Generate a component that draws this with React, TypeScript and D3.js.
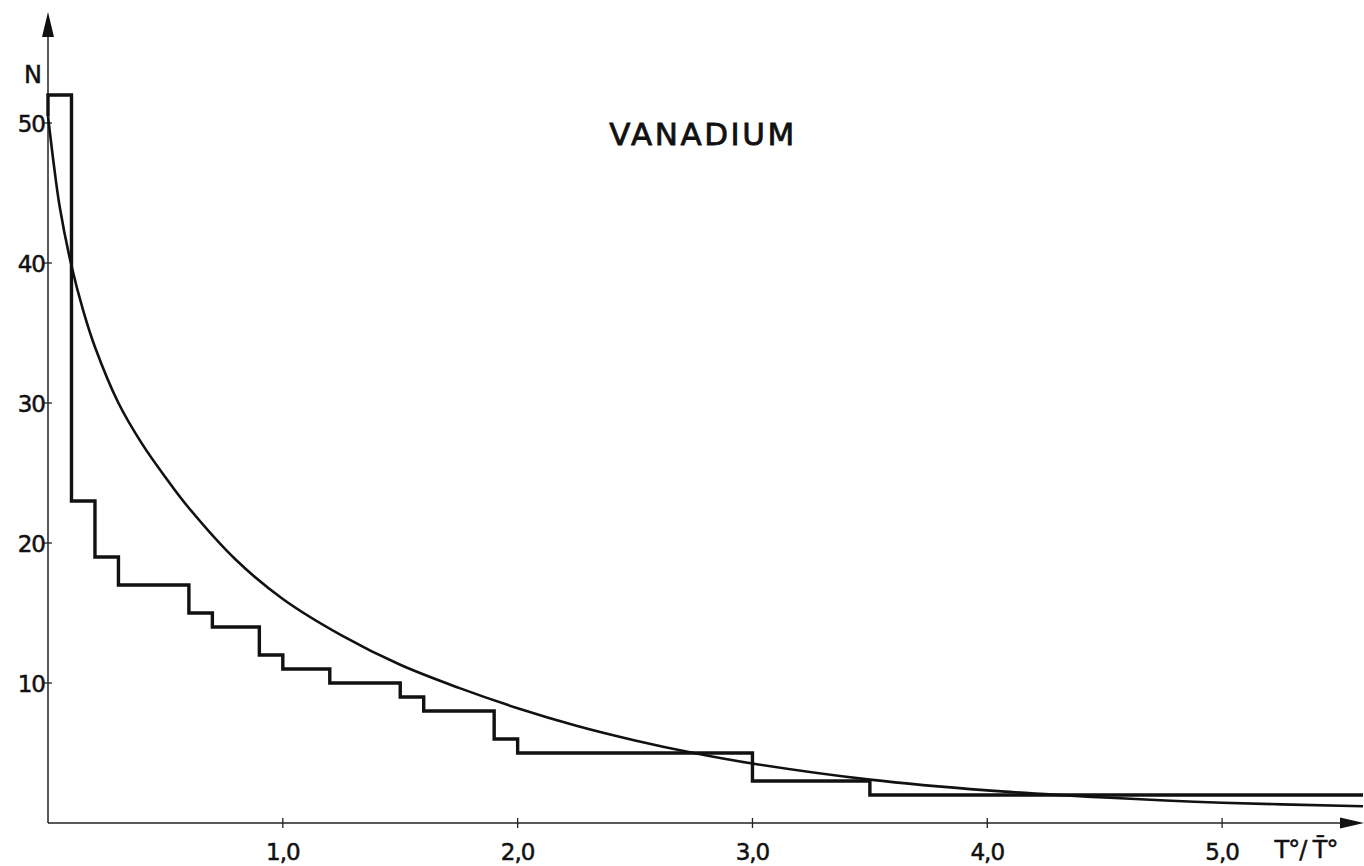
import React from "react";
import * as d3 from "d3";

// Histogram (step) data: bin edges along T°/T̄° and counts N
const binEdges = [0, 0.1, 0.2, 0.3, 0.6, 0.7, 0.9, 1.0, 1.2, 1.5, 1.6, 1.9, 2.0, 3.0, 3.5, 5.6];
const binCounts = [52, 23, 19, 17, 15, 14, 12, 11, 10, 9, 8, 6, 5, 3, 2];

// Smooth fitted curve samples
const curveT = [0, 0.025, 0.05, 0.1, 0.15, 0.2, 0.3, 0.4, 0.5, 0.6, 0.8, 1.0, 1.25, 1.5, 1.75, 2.0, 2.25, 2.5, 2.75, 3.0, 3.5, 4.0, 4.5, 5.0, 5.6];
const curveN = [50.5, 47.0, 44.0, 39.8, 36.6, 34.0, 30.0, 27.1, 24.7, 22.5, 18.8, 16.0, 13.4, 11.3, 9.65, 8.2, 6.95, 5.9, 5.0, 4.25, 3.1, 2.33, 1.82, 1.45, 1.2];

const xTicks = [1, 2, 3, 4, 5];
const xTickLabels = ["1,0", "2,0", "3,0", "4,0", "5,0"];
const yTicks = [10, 20, 30, 40, 50];
const yTickLabels = ["10", "20", "30", "40", "50"];

const title = "VANADIUM";
const yLabel = "N";
const xLabel = "T°/ T\u0304°";

export default function App() {
  const W = 1364;
  const H = 866;
  const x = d3.scaleLinear().domain([0, 5.6]).range([48, 1363]);
  const y = d3.scaleLinear().domain([0, 58]).range([823, 11]);

  const stepPts: [number, number][] = [[0, curveN[0]]];
  binCounts.forEach((c, i) => {
    stepPts.push([binEdges[i], c]);
    stepPts.push([binEdges[i + 1], c]);
  });
  const stepLine = d3
    .line<[number, number]>()
    .x((d) => x(d[0]))
    .y((d) => y(d[1]));

  const curveLine = d3
    .line<number>()
    .x((_, i) => x(curveT[i]))
    .y((d) => y(d))
    .curve(d3.curveCatmullRom.alpha(0.5));

  const axisColor = "#222";
  const font = "'DejaVu Sans', sans-serif";
  const x0 = x(0);
  const y0 = y(0);
  const textStroke = { stroke: "#111", strokeWidth: 0.5 };

  return (
    <svg
      width={W}
      height={H}
      style={{ position: "absolute", left: 0, top: 0, background: "#fff" }}
      viewBox={`0 0 ${W} ${H}`}
    >
      {/* axes */}
      <line x1={x0} y1={y0} x2={x0} y2={30} stroke={axisColor} strokeWidth={1.5} />
      <path d={`M${x0 - 6},37 L${x0},12 L${x0 + 6},37 Z`} fill="#111" />
      <line x1={x0} y1={y0} x2={1345} y2={y0} stroke={axisColor} strokeWidth={1.5} />
      <path d={`M1340,${y0 - 5.5} L1364,${y0} L1340,${y0 + 5.5} Z`} fill="#111" />

      {/* y ticks */}
      {yTicks.map((t, i) => (
        <g key={"y" + t}>
          <line x1={x0 - 4} x2={x0 + 4} y1={y(t)} y2={y(t)} stroke={axisColor} strokeWidth={1.3} />
          <text
            x={x0 - 3}
            y={y(t) + 8.5}
            textAnchor="end"
            fontFamily={font}
            fontSize={23}
            fill="#111"
            letterSpacing={-1}
            {...textStroke}
          >
            {yTickLabels[i]}
          </text>
        </g>
      ))}

      {/* x ticks */}
      {xTicks.map((t, i) => (
        <g key={"x" + t}>
          <line x1={x(t)} x2={x(t)} y1={y0 - 5} y2={y0 + 5} stroke={axisColor} strokeWidth={1.3} />
          <text
            x={x(t)}
            y={860}
            textAnchor="middle"
            fontFamily={font}
            fontSize={23}
            fill="#111"
            letterSpacing={-1}
            {...textStroke}
          >
            {xTickLabels[i]}
          </text>
        </g>
      ))}

      {/* axis labels */}
      <text x={33} y={83} textAnchor="middle" fontFamily={font} fontSize={24} fill="#111" {...textStroke}>
        {yLabel}
      </text>
      <text x={1306} y={858} textAnchor="middle" fontFamily={font} fontSize={24} fill="#111" letterSpacing={-1} {...textStroke}>
        {xLabel}
      </text>

      {/* title */}
      <text x={703} y={145} textAnchor="middle" fontFamily={font} fontSize={31} fill="#111" letterSpacing={2.5} stroke="#111" strokeWidth={0.8}>
        {title}
      </text>

      {/* histogram steps */}
      <path d={stepLine(stepPts) || ""} fill="none" stroke="#111" strokeWidth={3.4} strokeLinejoin="miter" />

      {/* fitted curve */}
      <path d={curveLine(curveN) || ""} fill="none" stroke="#111" strokeWidth={2.6} />
    </svg>
  );
}
